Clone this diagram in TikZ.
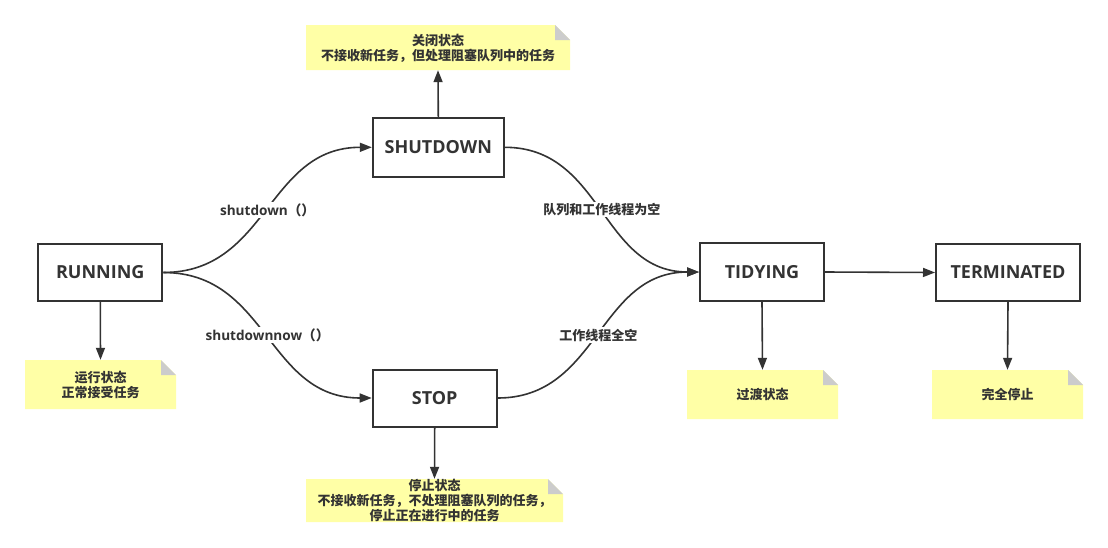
\documentclass[tikz,border=0pt]{standalone}
\usepackage{fontspec}
\setmainfont{Open Sans}
\newfontfamily\cjk{Noto Sans CJK SC}
\usetikzlibrary{arrows.meta}
\definecolor{ink}{HTML}{333333}
\definecolor{notefill}{HTML}{FFFFA6}
\definecolor{foldgray}{HTML}{CCCCCC}
\tikzset{
  state/.style={draw=ink, line width=2pt, fill=white, rectangle, text=ink,
    font=\fontsize{18}{21}\selectfont\bfseries, inner sep=0pt},
  flow/.style={draw=ink, line width=1.6pt, -{Triangle[length=12pt,width=9pt]}},
  lbl/.style={fill=white, text=ink, font=\fontsize{13.6}{15}\selectfont\bfseries, inner sep=1.5pt},
  cjklbl/.style={lbl, font=\cjk\fontsize{13}{15}\selectfont\bfseries},
  note/.style={rectangle, inner sep=0pt, text=ink, align=center,
    font=\cjk\fontsize{13}{15}\selectfont\bfseries,
    path picture={
      \fill[notefill] (path picture bounding box.north west)
        -- ([xshift=-15pt]path picture bounding box.north east)
        -- ([yshift=-15pt]path picture bounding box.north east)
        -- (path picture bounding box.south east)
        -- (path picture bounding box.south west) -- cycle;
      \fill[foldgray] ([xshift=-15pt]path picture bounding box.north east)
        -- ([xshift=-15pt,yshift=-15pt]path picture bounding box.north east)
        -- ([yshift=-15pt]path picture bounding box.north east) -- cycle;
    }},
}
\begin{document}
\begin{tikzpicture}[x=1pt,y=-1pt]
\useasboundingbox[fill=white] (0,0) rectangle (1108,547);
% states
\node[state, minimum width=124pt, minimum height=57pt] (running) at (100.3,272.5) {RUNNING};
\node[state, minimum width=131pt, minimum height=59pt] (shutdown) at (438.3,147.3) {SHUTDOWN};
\node[state, minimum width=124pt, minimum height=57pt] (stop) at (434.7,398) {STOP};
\node[state, minimum width=124pt, minimum height=58pt] (tidying) at (762,272) {TIDYING};
\node[state, minimum width=144pt, minimum height=57pt] (terminated) at (1008,272.5) {TERMINATED};
% notes
\node[note, minimum width=264pt, minimum height=45pt, font=\cjk\fontsize{13}{15.5}\selectfont\bfseries] (nshut) at (438,47.5) {\rule{0pt}{13pt}关闭状态\\不接收新任务，但处理阻塞队列中的任务};
\node[note, minimum width=151pt, minimum height=49pt] (nrun) at (100.5,384.5) {运行状态\\正常接受任务};
\node[note, minimum width=257pt, minimum height=43pt] (nstop) at (434.5,500.5) {停止状态\\不接收新任务，不处理阻塞队列的任务，\\停止正在进行中的任务};
\node[note, minimum width=151pt, minimum height=49pt] (ntidy) at (762.5,394.5) {过渡状态};
\node[note, minimum width=151pt, minimum height=49pt] (nterm) at (1007.5,394.5) {完全停止};
% note arrows
\draw[flow] (shutdown.north) -- (nshut.south);
\draw[flow] (running.south) -- (nrun.north);
\draw[flow] (stop.south) -- (nstop.north);
\draw[flow] (tidying.south) -- (ntidy.north);
\draw[flow] (terminated.south) -- (nterm.north);
% transitions
\draw[flow] (running.east) .. controls +(105,0) and +(-105,0) .. (shutdown.west)
  node[lbl, pos=0.5] {shutdown{\cjk （）}};
\draw[flow] (running.east) .. controls +(105,0) and +(-105,0) .. (stop.west)
  node[lbl, pos=0.5] {shutdownnow{\cjk （）}};
\draw[flow] (shutdown.east) .. controls +(98,0) and +(-98,0) .. (tidying.west)
  node[cjklbl, pos=0.5] {队列和工作线程为空};
\draw[flow] (stop.east) .. controls +(101,0) and +(-101,0) .. (tidying.west)
  node[cjklbl, pos=0.5] {工作线程全空};
\draw[flow] (tidying.east) -- (terminated.west);
\end{tikzpicture}
\end{document}
